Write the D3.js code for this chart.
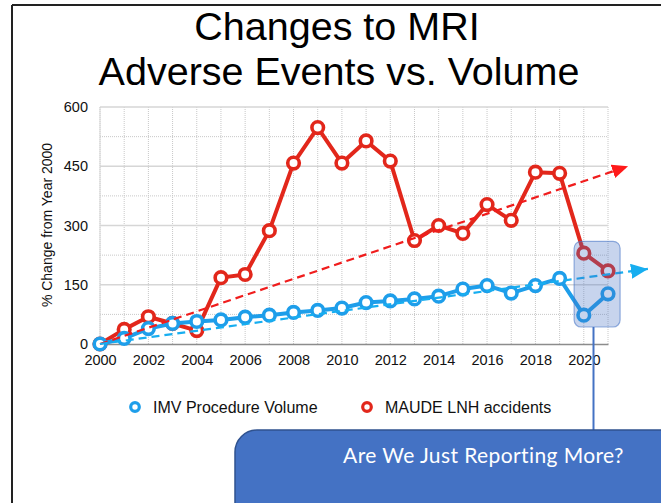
<!DOCTYPE html>
<html lang="en">
<head>
<meta charset="UTF-8">
<title>Changes to MRI Adverse Events vs. Volume</title>
<script src="https://cdn.jsdelivr.net/npm/d3@7"></script>
<style>
  html, body { margin: 0; padding: 0; background: #fff; }
  svg { display: block; font-family: "Liberation Sans", Arial, Helvetica, sans-serif; }
</style>
</head>
<body>
<div id="viz"></div>
<script>
// data
var years = [2000, 2001, 2002, 2003, 2004, 2005, 2006, 2007, 2008, 2009, 2010,
             2011, 2012, 2013, 2014, 2015, 2016, 2017, 2018, 2019, 2020, 2021];
var imvVolume = [0, 14, 39, 52, 57, 61, 68, 73, 80, 85, 91,
                 105, 109, 114, 121, 139, 148, 129, 148, 166, 73, 127];
var maudeAccidents = [0, 37, 69, 52, 34, 168, 176, 287, 458, 548, 458,
                      514, 463, 262, 300, 280, 353, 313, 435, 432, 230, 185];
var yTicks = [0, 150, 300, 450, 600];
var yMinorTicks = [75, 225, 375, 525];
var xTickYears = [2000, 2002, 2004, 2006, 2008, 2010, 2012, 2014, 2016, 2018, 2020];
// hand drawn trend arrows (start, tip) in data units
var redTrend = [[2000, 0], [2021.83, 450]];
var blueTrend = [[2000, 0], [2022.65, 190]];
// highlighted years
var highlightYears = [2019.6, 2021.5];
var highlightRange = [43, 260];

var W = 661, H = 503;
var red = "#e2271b", blue = "#1e9eea";

var svg = d3.select("#viz").append("svg")
    .attr("width", W)
    .attr("height", H);

var x = d3.scaleLinear().domain([2000, 2021]).range([100, 608]);
var y = d3.scaleLinear().domain([0, 600]).range([344, 107]);

// frame lines
svg.append("line").attr("x1", 12).attr("y1", 5).attr("x2", W).attr("y2", 5)
    .attr("stroke", "#222").attr("stroke-width", 2);
svg.append("line").attr("x1", 12).attr("y1", 5).attr("x2", 12).attr("y2", H)
    .attr("stroke", "#222").attr("stroke-width", 2);

// title
svg.append("text").attr("x", 337).attr("y", 40)
    .attr("text-anchor", "middle").attr("font-size", 39.5).attr("fill", "#000")
    .text("Changes to MRI");
svg.append("text").attr("x", 339).attr("y", 85)
    .attr("text-anchor", "middle").attr("font-size", 39.5).attr("fill", "#000")
    .text("Adverse Events vs. Volume");

// grid
var grid = svg.append("g").attr("class", "grid");
grid.selectAll("line.minor")
    .data(yMinorTicks)
    .enter().append("line")
    .attr("x1", x(2000)).attr("x2", x(2021))
    .attr("y1", function(d){ return y(d); }).attr("y2", function(d){ return y(d); })
    .attr("stroke", "#c8c8c8").attr("stroke-width", 1).attr("stroke-dasharray", "1,1");
grid.selectAll("line.vert")
    .data(years)
    .enter().append("line")
    .attr("x1", function(d){ return x(d); }).attr("x2", function(d){ return x(d); })
    .attr("y1", y(600)).attr("y2", y(0))
    .attr("stroke", "#c8c8c8").attr("stroke-width", 1).attr("stroke-dasharray", "1,1");
grid.selectAll("line.major")
    .data(yTicks.slice(1))
    .enter().append("line")
    .attr("x1", x(2000)).attr("x2", x(2021))
    .attr("y1", function(d){ return y(d); }).attr("y2", function(d){ return y(d); })
    .attr("stroke", "#d6d6d6").attr("stroke-width", 1.3);
grid.append("line")
    .attr("x1", x(2000)).attr("x2", x(2000)).attr("y1", y(600)).attr("y2", y(0))
    .attr("stroke", "#d6d6d6").attr("stroke-width", 1);

// axes
var yAxis = d3.axisLeft(y).tickValues(yTicks).tickSize(0).tickPadding(12);
svg.append("g").attr("transform", "translate(" + x(2000) + ",0)")
    .call(yAxis)
    .call(function(g){ g.select(".domain").remove(); })
    .selectAll("text").attr("font-size", 14.5).attr("fill", "#111")
    .attr("font-family", "Liberation Sans, Arial, sans-serif");

var xAxis = d3.axisBottom(x).tickValues(xTickYears).tickFormat(d3.format("d"))
    .tickSize(0).tickPadding(11);
svg.append("g").attr("transform", "translate(0," + y(0) + ")")
    .call(xAxis)
    .call(function(g){ g.select(".domain").attr("stroke", "#8c8c8c").attr("stroke-width", 1.5); })
    .selectAll("text").attr("font-size", 14.5).attr("fill", "#111")
    .attr("font-family", "Liberation Sans, Arial, sans-serif");

svg.append("text")
    .attr("transform", "translate(52,225) rotate(-90)")
    .attr("text-anchor", "middle").attr("font-size", 14).attr("fill", "#111")
    .text("% Change from Year 2000");

// series
var line = d3.line()
    .x(function(d){ return x(d[0]); })
    .y(function(d){ return y(d[1]); });

function drawSeries(values, color) {
    var pts = years.map(function(yr, i){ return [yr, values[i]]; });
    var g = svg.append("g");
    g.append("path").datum(pts)
        .attr("d", line)
        .attr("fill", "none").attr("stroke", color)
        .attr("stroke-width", 4).attr("stroke-linejoin", "round");
    g.selectAll("circle").data(pts)
        .enter().append("circle")
        .attr("cx", function(d){ return x(d[0]); })
        .attr("cy", function(d){ return y(d[1]); })
        .attr("r", 5.8)
        .attr("fill", "#fff").attr("stroke", color).attr("stroke-width", 3.6);
}
drawSeries(maudeAccidents, red);
drawSeries(imvVolume, blue);

// trend arrows
var defs = svg.append("defs");
function arrowMarker(id, color, len, wid) {
    defs.append("marker").attr("id", id)
        .attr("markerUnits", "userSpaceOnUse")
        .attr("viewBox", "0 0 " + len + " " + wid)
        .attr("refX", len).attr("refY", wid / 2)
        .attr("markerWidth", len).attr("markerHeight", wid)
        .attr("orient", "auto")
        .append("path")
        .attr("d", "M0,0L" + len + "," + (wid / 2) + "L0," + wid + "Z")
        .attr("fill", color);
}
arrowMarker("arrowRed", "#ff1a1a", 16, 14);
arrowMarker("arrowBlue", "#17aef0", 17, 15);

svg.append("path").datum(redTrend)
    .attr("d", line).attr("fill", "none")
    .attr("stroke", "#f01d1d").attr("stroke-width", 2.2)
    .attr("stroke-dasharray", "8,5")
    .attr("marker-end", "url(#arrowRed)");
svg.append("path").datum(blueTrend)
    .attr("d", line).attr("fill", "none")
    .attr("stroke", "#17aef0").attr("stroke-width", 2.2)
    .attr("stroke-dasharray", "8,5")
    .attr("marker-end", "url(#arrowBlue)");

// highlight box around 2020-2021
var hx0 = x(highlightYears[0]), hx1 = x(highlightYears[1]);
var hy0 = y(highlightRange[1]), hy1 = y(highlightRange[0]);
svg.append("rect")
    .attr("x", hx0).attr("y", hy0)
    .attr("width", hx1 - hx0).attr("height", hy1 - hy0)
    .attr("rx", 7).attr("ry", 7)
    .attr("fill", "#4472c4").attr("fill-opacity", 0.3)
    .attr("stroke", "#4472c4").attr("stroke-opacity", 0.55).attr("stroke-width", 1.2);

// connector to callout
svg.append("line")
    .attr("x1", 593.5).attr("x2", 593.5).attr("y1", hy1).attr("y2", 430)
    .attr("stroke", "#4472c4").attr("stroke-width", 2);

// callout
svg.append("rect")
    .attr("x", 235).attr("y", 430)
    .attr("width", 460).attr("height", 120)
    .attr("rx", 22).attr("ry", 22)
    .attr("fill", "#4472c4").attr("stroke", "#2f528f").attr("stroke-width", 1.5);
svg.append("text")
    .attr("x", 483.5).attr("y", 463)
    .attr("text-anchor", "middle")
    .attr("font-family", "Lato, 'Open Sans', sans-serif")
    .attr("font-size", 21).attr("letter-spacing", 0.4).attr("fill", "#fff")
    .text("Are We Just Reporting More?");

// legend
var legend = [
    { label: "IMV Procedure Volume", color: blue, x: 135 },
    { label: "MAUDE LNH accidents", color: red, x: 367 }
];
var lg = svg.selectAll("g.legend").data(legend).enter().append("g")
    .attr("transform", function(d){ return "translate(" + d.x + ",407)"; });
lg.append("circle").attr("r", 4.3)
    .attr("fill", "#fff").attr("stroke", function(d){ return d.color; })
    .attr("stroke-width", 3.2);
lg.append("text").attr("x", 18).attr("y", 6)
    .attr("font-size", 16).attr("fill", "#111")
    .text(function(d){ return d.label; });
</script>
</body>
</html>
